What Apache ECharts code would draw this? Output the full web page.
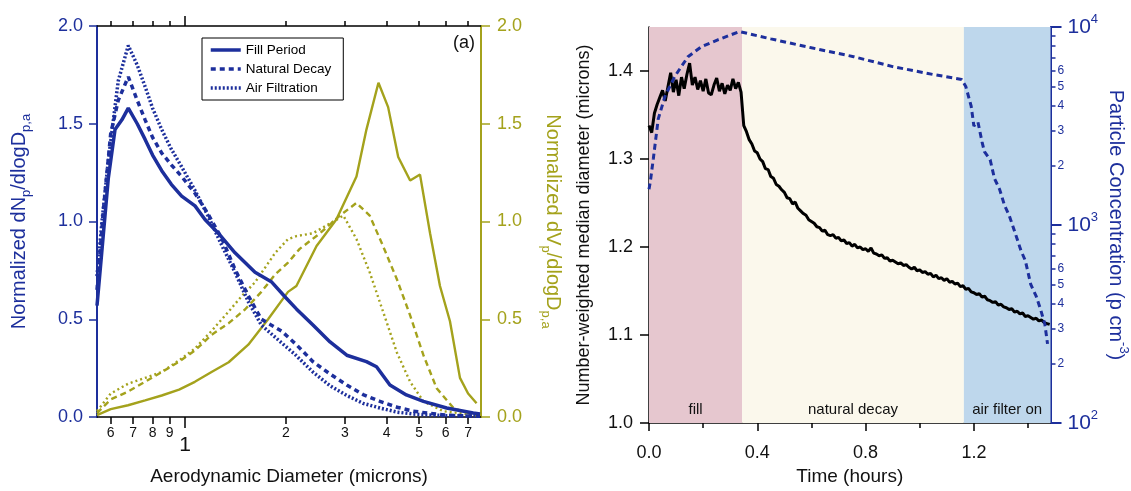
<!DOCTYPE html>
<html><head><meta charset="utf-8">
<script src="https://cdn.jsdelivr.net/npm/echarts@6/dist/echarts.min.js"></script>
<style>html,body{margin:0;padding:0;background:#fff}#c{width:1131px;height:491px}</style>
</head><body><div id="c"></div>
<script>
// ---------- Panel (a): size distributions ----------
const fillNumD = [0.546, 0.564, 0.59, 0.618, 0.648, 0.677, 0.72, 0.76, 0.80, 0.852, 0.91, 0.977, 1.071, 1.147, 1.257, 1.41, 1.618, 1.815, 2.0, 2.15, 2.414, 2.71, 3.04, 3.48, 3.73, 4.09, 4.58, 5.15, 6.04, 7.25, 7.6];
const fillNumV = [0.57, 0.84, 1.22, 1.47, 1.52, 1.58, 1.50, 1.42, 1.34, 1.26, 1.19, 1.13, 1.08, 1.01, 0.94, 0.84, 0.74, 0.69, 0.61, 0.553, 0.469, 0.384, 0.316, 0.283, 0.257, 0.164, 0.113, 0.08, 0.046, 0.02, 0.015];

const natNumD = [0.546, 0.57, 0.60, 0.632, 0.677, 0.72, 0.76, 0.80, 0.852, 0.91, 0.977, 1.07, 1.17, 1.29, 1.41, 1.545, 1.69, 1.94, 2.15, 2.41, 2.71, 3.04, 3.4, 3.82, 4.3, 4.8, 5.4, 6.04, 7.0, 7.6];
const natNumV = [0.65, 1.05, 1.45, 1.62, 1.74, 1.62, 1.52, 1.43, 1.35, 1.29, 1.23, 1.145, 1.04, 0.91, 0.756, 0.62, 0.50, 0.44, 0.37, 0.283, 0.22, 0.164, 0.115, 0.08, 0.05, 0.03, 0.018, 0.01, 0.005, 0.004];

const airNumD = [0.546, 0.565, 0.59, 0.632, 0.677, 0.72, 0.76, 0.80, 0.852, 0.91, 0.977, 1.07, 1.17, 1.29, 1.41, 1.545, 1.69, 1.94, 2.13, 2.41, 2.71, 3.04, 3.4, 3.82, 4.3, 4.8, 5.4, 6.04, 7.0, 7.6];
const airNumV = [0.72, 1.0, 1.31, 1.72, 1.90, 1.80, 1.69, 1.58, 1.47, 1.37, 1.28, 1.16, 1.03, 0.875, 0.74, 0.59, 0.47, 0.38, 0.32, 0.23, 0.16, 0.11, 0.07, 0.046, 0.025, 0.015, 0.01, 0.007, 0.005, 0.004];

const fillVolD = [0.546, 0.6, 0.676, 0.76, 0.852, 0.96, 1.07, 1.2, 1.35, 1.545, 1.77, 2.03, 2.15, 2.47, 2.83, 3.25, 3.48, 3.78, 4.04, 4.33, 4.70, 5.03, 5.39, 5.77, 6.18, 6.62, 7.0, 7.42];
const fillVolV = [0.01, 0.04, 0.06, 0.085, 0.11, 0.14, 0.18, 0.23, 0.28, 0.37, 0.50, 0.64, 0.67, 0.875, 1.01, 1.23, 1.47, 1.71, 1.585, 1.33, 1.21, 1.24, 0.94, 0.67, 0.49, 0.20, 0.12, 0.07];

const natVolD = [0.546, 0.6, 0.676, 0.76, 0.853, 0.953, 1.07, 1.2, 1.35, 1.51, 1.69, 1.86, 2.03, 2.2, 2.53, 2.9, 3.25, 3.56, 3.9, 4.29, 4.7, 5.15, 5.64, 6.33, 7.25, 7.6];
const natVolV = [0.02, 0.09, 0.13, 0.18, 0.23, 0.28, 0.34, 0.42, 0.48, 0.55, 0.64, 0.73, 0.79, 0.86, 0.94, 1.03, 1.095, 1.03, 0.875, 0.705, 0.52, 0.316, 0.147, 0.046, 0.01, 0.008];

const airVolD = [0.546, 0.6, 0.676, 0.76, 0.852, 0.96, 1.07, 1.2, 1.35, 1.48, 1.62, 1.86, 2.03, 2.15, 2.41, 2.71, 2.97, 3.25, 3.56, 3.9, 4.29, 4.7, 5.15, 5.9, 7.25, 7.6];
const airVolV = [0.03, 0.12, 0.17, 0.20, 0.23, 0.29, 0.35, 0.44, 0.54, 0.62, 0.69, 0.84, 0.91, 0.925, 0.94, 0.99, 1.03, 0.91, 0.74, 0.54, 0.33, 0.18, 0.08, 0.03, 0.01, 0.008];

const seriesNames = ['Fill Period', 'Natural Decay', 'Air Filtration'];
const diamRange = [0.546, 7.65];
const diamTicks = [0.6, 0.7, 0.8, 0.9, 2, 3, 4, 5, 6, 7];
const diamLabels = [0.6, 0.7, 0.8, 0.9, 1, 2, 3, 4, 5, 6, 7];
const diamMajor = [1];
const distTicks = [0, 0.5, 1.0, 1.5, 2.0];

// ---------- Panel (b): time series ----------
const medianStartHour = 0, medianStepHour = 0.01;
const medianDiam = [
1.338,1.330,1.352,1.362,1.370,1.378,1.366,1.382,1.398,1.376,
1.390,1.372,1.393,1.380,1.396,1.409,1.384,1.393,1.379,1.389,
1.377,1.391,1.375,1.373,1.384,1.392,1.377,1.386,1.374,1.384,
1.378,1.391,1.380,1.387,1.376,1.338,1.331,1.322,1.317,1.309,
1.307,1.300,1.297,1.289,1.288,1.280,1.278,1.271,1.269,1.265,
1.262,1.256,1.255,1.249,1.251,1.244,1.241,1.238,1.236,1.231,
1.229,1.227,1.223,1.222,1.218,1.219,1.214,1.213,1.214,1.210,
1.211,1.207,1.208,1.204,1.205,1.201,1.203,1.199,1.200,1.197,
1.198,1.195,1.199,1.193,1.192,1.190,1.191,1.187,1.188,1.184,
1.185,1.183,1.181,1.182,1.179,1.180,1.177,1.175,1.177,1.173,
1.174,1.171,1.172,1.169,1.170,1.166,1.168,1.164,1.165,1.162,
1.164,1.160,1.161,1.158,1.159,1.155,1.156,1.152,1.153,1.149,
1.148,1.146,1.147,1.143,1.144,1.140,1.139,1.137,1.138,1.134,
1.135,1.132,1.131,1.129,1.130,1.126,1.127,1.124,1.125,1.121,
1.122,1.120,1.118,1.119,1.116,1.117,1.114,1.113,1.112];

const concTime = [0, 0.005, 0.016, 0.034, 0.059, 0.095, 0.144, 0.193, 0.254, 0.334, 0.45, 0.6, 0.756, 0.9, 1.05, 1.155, 1.17, 1.19, 1.20, 1.215, 1.23, 1.239, 1.26, 1.276, 1.295, 1.313, 1.33, 1.35, 1.374, 1.39, 1.41, 1.43, 1.447, 1.462, 1.472];
const concValue = [1514, 1660, 2163, 3428, 4467, 5623, 7079, 7943, 8610, 9484, 8710, 7852, 7079, 6310, 5754, 5433, 5012, 3981, 3162, 3311, 2630, 2344, 2138, 1718, 1514, 1259, 1122, 933, 741, 661, 501, 437, 372, 316, 251];

const phaseNames = ['fill', 'natural decay', 'air filter on'];
const phaseStart = [0, 0.344, 1.163];
const phaseEnd = [0.344, 1.163, 1.483];
const phaseColors = ['#e6c7cf', '#fbf8ec', '#bed7ec'];
const timeRange = [0, 1.483];
const timeTicks = [0, 0.4, 0.8, 1.2];
const timeMinor = [0.2, 0.6, 1.0, 1.4];
const medianTicks = [1.0, 1.1, 1.2, 1.3, 1.4];
const medianRange = [1.0, 1.45];
const concRange = [100, 10000];
const concMajor = [100, 1000, 10000];
const concMinor = [200,300,400,500,600,700,800,900,2000,3000,4000,5000,6000,7000,8000,9000];
const concMinorLabels = [200,300,400,500,600,2000,3000,4000,5000,6000];

// ---------- build ----------
const BLUE = '#1d2f9c', OLIVE = '#a4a21c', BLACK = '#111';
const FONT = '"Liberation Sans", Arial, Helvetica, sans-serif';
const lg = Math.log10;
const pairs = (xs, ys) => xs.map((x, i) => [lg(x), ys[i]]);
const medianData = medianDiam.map((v, i) => [medianStartHour + i * medianStepHour, v]);
const concData = concTime.map((t, i) => [t, lg(concValue[i])]);

const diamFmt = v => {
  const d = Math.pow(10, v);
  if (Math.abs(d - 1) < 1e-6) return '{big|1}';
  return d < 1 ? String(Math.round(d * 10)) : String(Math.round(d));
};

const chart = echarts.init(document.getElementById('c'));
const noLine = {show: false};
const option = {
  animation: false,
  textStyle: {fontFamily: FONT},
  grid: [
    {left: 97, width: 384, top: 26, height: 393},
    {left: 649, width: 404, top: 27, height: 400}
  ],
  legend: {
    data: seriesNames, orient: 'vertical', left: 202, top: 38,
    borderColor: '#000', borderWidth: 1, padding: [5, 12, 5, 7],
    itemWidth: 30, itemHeight: 10, itemGap: 5,
    itemStyle: {opacity: 0},
    lineStyle: {width: 3.5},
    textStyle: {fontSize: 13.5, color: '#000', fontFamily: FONT}
  },
  xAxis: [
    {gridIndex: 0, type: 'value', position: 'bottom', min: lg(diamRange[0]), max: lg(diamRange[1]),
     axisLine: {onZero: false, lineStyle: {color: '#000', width: 1.5}},
     axisTick: {customValues: diamTicks.map(lg), length: 7, lineStyle: {color: '#000', width: 1.5}},
     axisLabel: {customValues: diamLabels.map(lg), formatter: diamFmt, fontSize: 14, color: BLACK, margin: 9,
       rich: {big: {fontSize: 21, padding: [9, 0, 0, 0], color: BLACK, fontFamily: FONT}}},
     splitLine: noLine,
     name: 'Aerodynamic Diameter (microns)', nameLocation: 'middle', nameGap: 50,
     nameTextStyle: {fontSize: 19, color: BLACK}},
    {gridIndex: 0, type: 'value', position: 'bottom', min: lg(diamRange[0]), max: lg(diamRange[1]),
     axisLine: {show: false, onZero: false},
     axisTick: {customValues: diamMajor.map(lg), length: 11, lineStyle: {color: '#000', width: 1.5}},
     axisLabel: noLine, splitLine: noLine},
    {gridIndex: 0, type: 'value', position: 'top', min: lg(diamRange[0]), max: lg(diamRange[1]),
     axisLine: {onZero: false, lineStyle: {color: '#000', width: 1.5}},
     axisTick: {customValues: diamTicks.map(lg), length: 5, lineStyle: {color: '#000', width: 1.5}},
     axisLabel: noLine, splitLine: noLine},
    {gridIndex: 0, type: 'value', position: 'top', min: lg(diamRange[0]), max: lg(diamRange[1]),
     axisLine: {show: false, onZero: false},
     axisTick: {customValues: diamMajor.map(lg), length: 10, lineStyle: {color: '#000', width: 1.5}},
     axisLabel: noLine, splitLine: noLine},
    {gridIndex: 1, type: 'value', position: 'bottom', min: timeRange[0], max: timeRange[1],
     axisLine: {onZero: false, lineStyle: {color: '#000', width: 1.5}},
     axisTick: {customValues: timeTicks, length: 8, lineStyle: {color: '#000', width: 1.5}},
     axisLabel: {customValues: timeTicks, formatter: v => v.toFixed(1), fontSize: 18, color: BLACK, margin: 21},
     splitLine: noLine,
     name: 'Time (hours)', nameLocation: 'middle', nameGap: 44,
     nameTextStyle: {fontSize: 19, color: BLACK}},
    {gridIndex: 1, type: 'value', position: 'bottom', min: timeRange[0], max: timeRange[1],
     axisLine: {show: false, onZero: false},
     axisTick: {customValues: timeMinor, length: 5, lineStyle: {color: '#000', width: 1.5}},
     axisLabel: noLine, splitLine: noLine}
  ],
  yAxis: [
    {gridIndex: 0, type: 'value', position: 'left', min: 0, max: 2,
     axisLine: {onZero: false, lineStyle: {color: BLUE, width: 2}},
     axisTick: {customValues: distTicks, length: 8, lineStyle: {color: BLUE, width: 1.5}},
     axisLabel: {customValues: distTicks, formatter: v => v.toFixed(1), fontSize: 18, color: BLUE, margin: 14},
     splitLine: noLine,
     name: 'Normalized dN{sub|p}/dlogD{sub|p,a}', nameLocation: 'middle', nameGap: 64,
     nameTextStyle: {fontSize: 20, color: BLUE, lineHeight: 28,
       rich: {sub: {fontSize: 13, lineHeight: 14, verticalAlign: 'bottom', color: BLUE, fontFamily: FONT}}}},
    {gridIndex: 0, type: 'value', position: 'right', min: 0, max: 2,
     axisLine: {onZero: false, lineStyle: {color: OLIVE, width: 2}},
     axisTick: {customValues: distTicks, length: 9, lineStyle: {color: OLIVE, width: 1.5}},
     axisLabel: {customValues: distTicks, formatter: v => v.toFixed(1), fontSize: 18, color: OLIVE, margin: 16},
     splitLine: noLine,
     name: 'Normalized dV{sub|p}/dlogD{sub|p,a}', nameLocation: 'middle', nameGap: 58, nameRotate: -90,
     nameTextStyle: {fontSize: 20, color: OLIVE, lineHeight: 28,
       rich: {sub: {fontSize: 13, lineHeight: 14, verticalAlign: 'bottom', color: OLIVE, fontFamily: FONT}}}},
    {gridIndex: 1, type: 'value', position: 'left', min: medianRange[0], max: medianRange[1],
     axisLine: {onZero: false, lineStyle: {color: '#000', width: 1.5}},
     axisTick: {customValues: medianTicks, length: 9, lineStyle: {color: '#000', width: 1.5}},
     axisLabel: {customValues: medianTicks, formatter: v => v.toFixed(1), fontSize: 18, color: BLACK, margin: 16},
     splitLine: noLine,
     name: 'Number-weighted median diameter (microns)', nameLocation: 'middle', nameGap: 56,
     nameTextStyle: {fontSize: 18, color: BLACK}},
    {gridIndex: 1, type: 'value', position: 'right', min: lg(concRange[0]), max: lg(concRange[1]),
     axisLine: {onZero: false, lineStyle: {color: BLUE, width: 2}},
     axisTick: {customValues: concMajor.map(lg), length: 11, lineStyle: {color: BLUE, width: 2}},
     axisLabel: {customValues: concMajor.map(lg), formatter: v => '10{sup|' + Math.round(v) + '}',
       fontSize: 21, lineHeight: 28, color: BLUE, margin: 17,
       rich: {sup: {fontSize: 13, lineHeight: 14, verticalAlign: 'top', color: BLUE, fontFamily: FONT}}},
     splitLine: noLine,
     name: 'Particle Concentration (p cm{sup|-3})', nameLocation: 'middle', nameGap: 48, nameRotate: -90,
     nameTextStyle: {fontSize: 20, color: BLUE, lineHeight: 28,
       rich: {sup: {fontSize: 13, lineHeight: 14, verticalAlign: 'top', color: BLUE, fontFamily: FONT}}}},
    {gridIndex: 1, type: 'value', position: 'right', min: lg(concRange[0]), max: lg(concRange[1]),
     axisLine: {show: false, onZero: false},
     axisTick: {customValues: concMinor.map(lg), length: 5, lineStyle: {color: BLUE, width: 1.5}},
     axisLabel: {customValues: concMinorLabels.map(lg),
       formatter: v => String(Math.round(Math.pow(10, v) / Math.pow(10, Math.floor(v + 1e-9)))),
       fontSize: 12, color: BLUE, margin: 7},
     splitLine: noLine}
  ],
  graphic: [
    {type: 'text', left: 453, top: 34, style: {text: '(a)', fontSize: 18, fill: '#111', fontFamily: FONT}},
    {type: 'text', left: 1013, top: 34, style: {text: '(b)', fontSize: 18, fill: '#111', fontFamily: FONT}}
  ],
  series: [
    {type: 'line', name: 'phases', xAxisIndex: 4, yAxisIndex: 2, data: [], z: 1, silent: true,
     markArea: {silent: true,
       data: phaseNames.map((n, i) => [
         {name: n, xAxis: phaseStart[i], itemStyle: {color: phaseColors[i], opacity: 1},
          label: {show: true, position: 'insideBottom', distance: 6, fontSize: 15, color: '#111', fontFamily: FONT}},
         {xAxis: phaseEnd[i]}])}},
    {type: 'line', name: 'Fill Vol', xAxisIndex: 0, yAxisIndex: 1, data: pairs(fillVolD, fillVolV),
     symbol: 'none', lineStyle: {color: OLIVE, width: 2.4}, itemStyle: {color: OLIVE}, z: 2},
    {type: 'line', name: 'Decay Vol', xAxisIndex: 0, yAxisIndex: 1, data: pairs(natVolD, natVolV),
     symbol: 'none', lineStyle: {color: OLIVE, width: 2.4, type: [6, 4]}, itemStyle: {color: OLIVE}, z: 2},
    {type: 'line', name: 'Filter Vol', xAxisIndex: 0, yAxisIndex: 1, data: pairs(airVolD, airVolV),
     symbol: 'none', lineStyle: {color: OLIVE, width: 2.4, type: [2, 3]}, itemStyle: {color: OLIVE}, z: 2},
    {type: 'line', name: seriesNames[0], xAxisIndex: 0, yAxisIndex: 0, data: pairs(fillNumD, fillNumV),
     symbol: 'none', lineStyle: {color: BLUE, width: 3.5}, itemStyle: {color: BLUE}, z: 3},
    {type: 'line', name: seriesNames[1], xAxisIndex: 0, yAxisIndex: 0, data: pairs(natNumD, natNumV),
     symbol: 'none', lineStyle: {color: BLUE, width: 3.5, type: [5, 4]}, itemStyle: {color: BLUE}, z: 3},
    {type: 'line', name: seriesNames[2], xAxisIndex: 0, yAxisIndex: 0, data: pairs(airNumD, airNumV),
     symbol: 'none', lineStyle: {color: BLUE, width: 3.5, type: [2, 2]}, itemStyle: {color: BLUE}, z: 3},
    {type: 'line', name: 'median', xAxisIndex: 4, yAxisIndex: 2, data: medianData,
     symbol: 'none', lineStyle: {color: '#000', width: 3}, itemStyle: {color: '#000'}, z: 4},
    {type: 'line', name: 'conc', xAxisIndex: 4, yAxisIndex: 3, data: concData,
     symbol: 'none', lineStyle: {color: BLUE, width: 3, type: [6, 4]}, itemStyle: {color: BLUE}, z: 5}
  ]
};
chart.setOption(option);
</script></body></html>
